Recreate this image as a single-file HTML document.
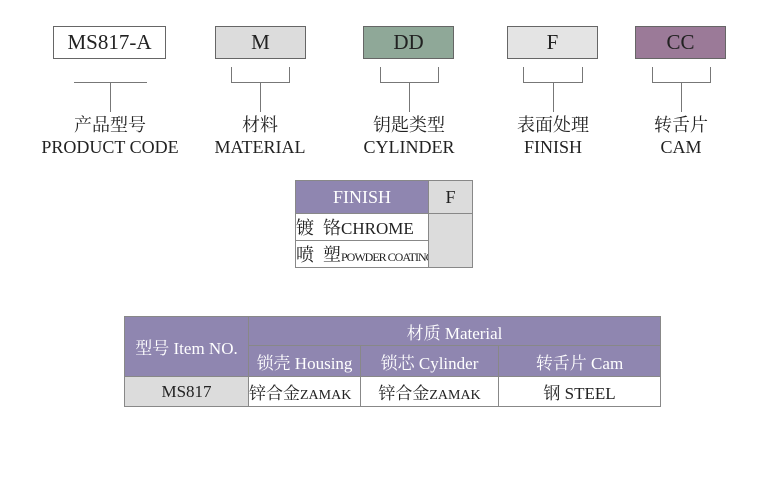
<!DOCTYPE html>
<html><head><meta charset="utf-8"><style>
body{margin:0;width:778px;height:500px;background:#fff;position:relative;font-family:"Liberation Serif","Noto Serif CJK SC",serif;color:#222;overflow:hidden}
.a{position:absolute;box-sizing:border-box}
.box{border:1px solid #666;font-size:21px;text-align:center;line-height:31px;height:33px;top:26px}
.ln{position:absolute;background:#777}
.lb{position:absolute;text-align:center;font-size:18px;line-height:22px;width:160px}
table{border-collapse:collapse;position:absolute;table-layout:fixed}
td{border:1px solid #888;padding:0;text-align:center;white-space:nowrap;overflow:hidden}
.p{background:#8f86b0;color:#fff}
.g{background:#dcdcdc}
</style></head><body>
<div class="a box" style="left:53px;width:113px;background:#fff">MS817-A</div>
<div class="a box" style="left:215px;width:91px;background:#dcdcdc">M</div>
<div class="a box" style="left:363px;width:91px;background:#8fa898">DD</div>
<div class="a box" style="left:507px;width:91px;background:#e4e4e4">F</div>
<div class="a box" style="left:635px;width:91px;background:#9b7a98">CC</div>

<div class="ln" style="left:74px;top:82px;width:73px;height:1px"></div>
<div class="ln" style="left:110px;top:82px;width:1px;height:30px"></div>

<div class="ln" style="left:231px;top:67px;width:1px;height:16px"></div><div class="ln" style="left:289px;top:67px;width:1px;height:16px"></div><div class="ln" style="left:231px;top:82px;width:59px;height:1px"></div><div class="ln" style="left:260px;top:82px;width:1px;height:30px"></div>
<div class="ln" style="left:380px;top:67px;width:1px;height:16px"></div><div class="ln" style="left:438px;top:67px;width:1px;height:16px"></div><div class="ln" style="left:380px;top:82px;width:59px;height:1px"></div><div class="ln" style="left:409px;top:82px;width:1px;height:30px"></div>
<div class="ln" style="left:523px;top:67px;width:1px;height:16px"></div><div class="ln" style="left:582px;top:67px;width:1px;height:16px"></div><div class="ln" style="left:523px;top:82px;width:60px;height:1px"></div><div class="ln" style="left:553px;top:82px;width:1px;height:30px"></div>
<div class="ln" style="left:652px;top:67px;width:1px;height:16px"></div><div class="ln" style="left:710px;top:67px;width:1px;height:16px"></div><div class="ln" style="left:652px;top:82px;width:59px;height:1px"></div><div class="ln" style="left:681px;top:82px;width:1px;height:30px"></div>

<div class="lb" style="left:30px;top:114px">产品型号<br>PRODUCT CODE</div>
<div class="lb" style="left:180px;top:114px">材料<br>MATERIAL</div>
<div class="lb" style="left:329px;top:114px">钥匙类型<br>CYLINDER</div>
<div class="lb" style="left:473px;top:114px">表面处理<br>FINISH</div>
<div class="lb" style="left:601px;top:114px">转舌片<br>CAM</div>

<table style="left:295px;top:180px;width:177px;font-size:18px">
<col style="width:133px"><col style="width:44px">
<tr style="height:33px"><td class="p">FINISH</td><td class="g">F</td></tr>
<tr style="height:27px"><td style="text-align:left">镀&nbsp;&nbsp;铬<span style="font-size:17px">CHROME</span></td><td class="g" rowspan="2"></td></tr>
<tr style="height:27px"><td style="text-align:left">喷&nbsp;&nbsp;塑<span style="font-size:12px;letter-spacing:-1px">POWDER COATING</span></td></tr>
</table>

<table style="left:124px;top:316px;width:536px;font-size:17px">
<col style="width:124px"><col style="width:112px"><col style="width:138px"><col style="width:162px">
<tr style="height:29px"><td class="p" rowspan="2">型号 Item NO.</td><td class="p" colspan="3">材质 Material</td></tr>
<tr style="height:31px"><td class="p">锁壳 Housing</td><td class="p">锁芯 Cylinder</td><td class="p">转舌片 Cam</td></tr>
<tr style="height:30px"><td class="g">MS817</td><td style="text-align:left">锌合金<span style="font-size:14px">ZAMAK</span></td><td>锌合金<span style="font-size:14px">ZAMAK</span></td><td>钢 STEEL</td></tr>
</table>
</body></html>
